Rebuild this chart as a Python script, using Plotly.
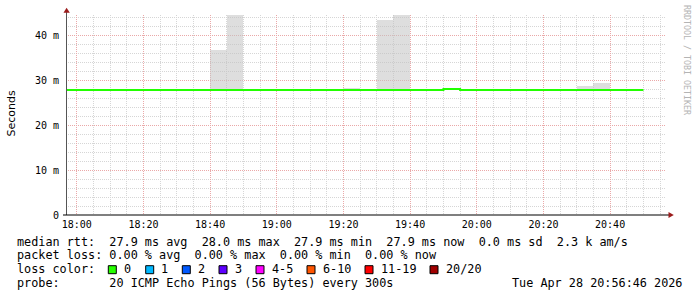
import plotly.graph_objects as go
import pandas as pd

# ---------------- data ----------------
interval_start = pd.date_range("2026-04-28 17:55:00", periods=35, freq="5min")
interval_end = pd.Timestamp("2026-04-28 20:50:00")
view_start = "2026-04-28 17:56:46"
view_end = "2026-04-28 20:56:46"

median_rtt = [27.8, 27.8, 27.8, 27.8, 27.8, 27.8, 27.8, 27.8, 27.8, 27.8,
              27.8, 27.8, 27.8, 27.8, 27.8, 27.8, 27.8, 27.8, 27.8, 27.8,
              27.8, 27.8, 27.8, 28.0, 27.8, 27.8, 27.8, 27.8, 27.8, 27.8,
              27.8, 27.8, 27.8, 27.8, 27.8]
smoke_min = [27.6, 27.6, 27.6, 27.6, 27.6, 27.6, 27.6, 27.6, 27.6, 27.6,
             27.6, 27.6, 27.6, 27.6, 27.6, 27.6, 27.6, 27.6, 27.6, 27.6,
             27.6, 27.6, 27.6, 27.7, 27.6, 27.6, 27.6, 27.6, 27.6, 27.6,
             27.6, 27.6, 27.6, 27.6, 27.6]
smoke_max = [27.9, 27.9, 27.9, 27.9, 27.9, 27.9, 27.9, 27.9, 27.9, 36.7,
             47.5, 27.9, 27.9, 27.9, 27.9, 27.9, 27.9, 28.2, 27.9, 43.3,
             47.5, 27.9, 27.9, 28.1, 27.9, 27.9, 27.9, 27.9, 27.9, 27.9,
             27.9, 28.7, 29.3, 27.9, 27.9]

y_tick_vals = [0, 10, 20, 30, 40]
y_tick_text = ["0", "10 m", "20 m", "30 m", "40 m"]
y_max = 44.444

legend_rows = [
    "median rtt:  27.9 ms avg  28.0 ms max  27.9 ms min  27.9 ms now  0.0 ms sd  2.3 k am/s",
    "packet loss: 0.00 % avg  0.00 % max  0.00 % min  0.00 % now",
]
loss_labels = ["0", "1", "2", "3", "4-5", "6-10", "11-19", "20/20"]
loss_colors = ["#26ff00", "#00b8ff", "#0059ff", "#5e00ff", "#ff00ff", "#ff5500", "#ff0000", "#a10000"]
probe_text = "probe:       20 ICMP Echo Pings (56 Bytes) every 300s"
date_text = "Tue Apr 28 20:56:46 2026"
y_title = "Seconds"
watermark = "RRDTOOL / TOBI OETIKER"

# ---------------- layout geometry ----------------
W, H = 697, 297
PL, PR, PT, PB = 66, 666, 15, 215


def px(x):
    return (x - PL) / (PR - PL)


def py(y):
    return (PB - y) / (PB - PT)


def nb(s):
    return s.replace(" ", "\u00a0")


fig = go.Figure()

# smoke
fig.add_trace(go.Bar(
    x=interval_start,
    y=[hi - lo for hi, lo in zip(smoke_max, smoke_min)],
    base=smoke_min,
    offset=0,
    width=300000,
    marker=dict(color="rgba(195,195,195,0.55)", line=dict(width=0)),
    hoverinfo="skip",
))

# median line
fig.add_trace(go.Scatter(
    x=list(interval_start) + [interval_end],
    y=median_rtt + [median_rtt[-1]],
    mode="lines",
    line=dict(color="#22ff00", width=2, shape="hv"),
    hoverinfo="skip",
))

mono = "DejaVu Sans Mono"
fig.update_layout(
    width=W, height=H,
    margin=dict(l=PL, r=W - PR, t=PT, b=H - PB, pad=0),
    paper_bgcolor="white", plot_bgcolor="white",
    showlegend=False,
    bargap=0,
    xaxis=dict(
        type="date",
        range=[view_start, view_end],
        tick0="2026-04-28 18:00:00",
        dtick=1200000,
        tickformat="%H:%M",
        showgrid=True, gridcolor="#eaa8a8", griddash="1px,1px", gridwidth=1,
        minor=dict(dtick=300000, tick0="2026-04-28 18:00:00", showgrid=True,
                   gridcolor="#d6d6d6", griddash="1px,1px", gridwidth=1),
        showline=False, zeroline=False, ticks="",
        tickfont=dict(family=mono, size=10, color="black"),
        ticklabelstandoff=2,
        fixedrange=True,
    ),
    yaxis=dict(
        range=[0, y_max],
        tickmode="array", tickvals=y_tick_vals, ticktext=y_tick_text,
        showgrid=True, gridcolor="#eaa8a8", griddash="1px,1px", gridwidth=1,
        minor=dict(dtick=2, tick0=0, showgrid=True,
                   gridcolor="#d6d6d6", griddash="1px,1px", gridwidth=1),
        showline=False, zeroline=False, ticks="",
        tickfont=dict(family=mono, size=10, color="black"),
        ticklabelstandoff=6,
        fixedrange=True,
    ),
)

shapes = []
# y axis line
shapes.append(dict(type="line", xref="paper", yref="paper",
                   x0=px(66.5), x1=px(66.5), y0=py(215), y1=py(12),
                   line=dict(color="#555555", width=1)))
# x axis line
shapes.append(dict(type="line", xref="paper", yref="paper",
                   x0=px(63), x1=px(669), y0=py(215), y1=py(215),
                   line=dict(color="black", width=1.2)))
arrow_col = "#9b1c1c"
shapes.append(dict(type="path", xref="paper", yref="paper",
                   path=f"M {px(63.5)} {py(12.7)} L {px(69.8)} {py(12.7)} L {px(66.6)} {py(7.8)} Z",
                   fillcolor=arrow_col, line=dict(width=0)))
shapes.append(dict(type="path", xref="paper", yref="paper",
                   path=f"M {px(668.5)} {py(212)} L {px(668.5)} {py(218)} L {px(673.8)} {py(215)} Z",
                   fillcolor=arrow_col, line=dict(width=0)))

annotations = []
LF = dict(family=mono, size=11.8, color="black")
row_y = [241.9, 255.4, 269.2, 283.2]
for i, row in enumerate(legend_rows):
    annotations.append(dict(text=nb(row), x=px(15.5), y=py(row_y[i]), xref="paper", yref="paper",
                            xanchor="left", yanchor="middle", showarrow=False, font=LF, borderpad=0))
annotations.append(dict(text=nb("loss color:"), x=px(15.5), y=py(row_y[2]), xref="paper", yref="paper",
                        xanchor="left", yanchor="middle", showarrow=False, font=LF, borderpad=0))
sq_x = [108.3, 145.7, 182.3, 219.0, 256.0, 307.0, 365.0, 430.0]
for sx, lab, col in zip(sq_x, loss_labels, loss_colors):
    shapes.append(dict(type="rect", xref="paper", yref="paper",
                       x0=px(sx), x1=px(sx + 8), y0=py(row_y[2] + 4.5), y1=py(row_y[2] - 3.5),
                       fillcolor=col, line=dict(color="black", width=1)))
    annotations.append(dict(text=nb(lab), x=px(sx + 14.5), y=py(row_y[2]), xref="paper", yref="paper",
                            xanchor="left", yanchor="middle", showarrow=False, font=LF, borderpad=0))
annotations.append(dict(text=nb(probe_text), x=px(15.5), y=py(row_y[3]), xref="paper", yref="paper",
                        xanchor="left", yanchor="middle", showarrow=False, font=LF, borderpad=0))
annotations.append(dict(text=nb(date_text), x=px(510.5), y=py(row_y[3]), xref="paper", yref="paper",
                        xanchor="left", yanchor="middle", showarrow=False, font=LF, borderpad=0))
annotations.append(dict(text=y_title, x=px(11), y=py(113.5), xref="paper", yref="paper",
                        xanchor="center", yanchor="middle", textangle=-90, showarrow=False,
                        font=dict(family="DejaVu Sans", size=11, color="black"), borderpad=0))
annotations.append(dict(text=nb(watermark), x=px(687), y=py(60), xref="paper", yref="paper",
                        xanchor="center", yanchor="middle", textangle=90, showarrow=False,
                        font=dict(family=mono, size=8.3, color="#b4b4b4"), borderpad=0))

fig.update_layout(shapes=shapes, annotations=annotations)
fig.write_html("out.html")
